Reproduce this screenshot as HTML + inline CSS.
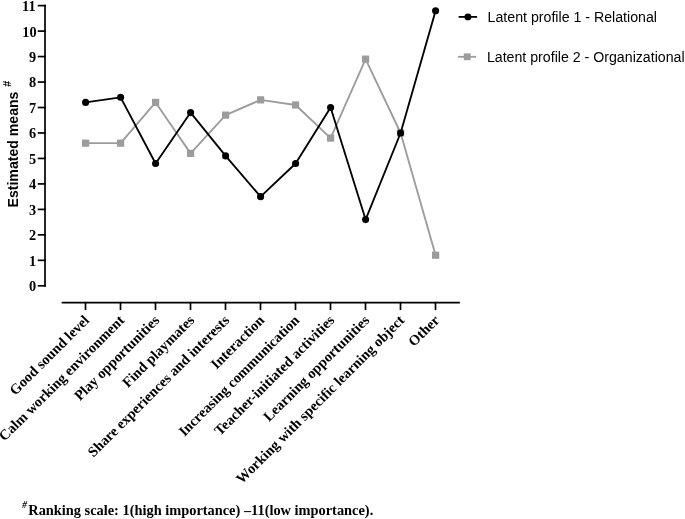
<!DOCTYPE html>
<html><head><meta charset="utf-8"><title>Latent profiles</title>
<style>
html,body{margin:0;padding:0;background:#fff;}
body{width:685px;height:519px;overflow:hidden;}
svg{display:block;}
.ser{font-family:"Liberation Serif",serif;font-weight:bold;fill:#000;}
.san{font-family:"Liberation Sans",sans-serif;fill:#000;}
</style></head><body>
<svg width="685" height="519" viewBox="0 0 685 519">
<rect width="685" height="519" fill="#fff"/>

<g stroke="#000" stroke-width="1.7" fill="none" stroke-linecap="square">
<line x1="45.0" y1="5.63" x2="45.0" y2="285.80"/>
<line x1="38.6" y1="285.80" x2="45.0" y2="285.80"/>
<line x1="38.6" y1="260.33" x2="45.0" y2="260.33"/>
<line x1="38.6" y1="234.86" x2="45.0" y2="234.86"/>
<line x1="38.6" y1="209.39" x2="45.0" y2="209.39"/>
<line x1="38.6" y1="183.92" x2="45.0" y2="183.92"/>
<line x1="38.6" y1="158.45" x2="45.0" y2="158.45"/>
<line x1="38.6" y1="132.98" x2="45.0" y2="132.98"/>
<line x1="38.6" y1="107.51" x2="45.0" y2="107.51"/>
<line x1="38.6" y1="82.04" x2="45.0" y2="82.04"/>
<line x1="38.6" y1="56.57" x2="45.0" y2="56.57"/>
<line x1="38.6" y1="31.10" x2="45.0" y2="31.10"/>
<line x1="38.6" y1="5.63" x2="45.0" y2="5.63"/>
<line x1="62.5" y1="302.7" x2="459" y2="302.7"/>
<line x1="85.5" y1="302.7" x2="85.5" y2="309.2"/>
<line x1="120.5" y1="302.7" x2="120.5" y2="309.2"/>
<line x1="155.5" y1="302.7" x2="155.5" y2="309.2"/>
<line x1="190.5" y1="302.7" x2="190.5" y2="309.2"/>
<line x1="225.5" y1="302.7" x2="225.5" y2="309.2"/>
<line x1="260.5" y1="302.7" x2="260.5" y2="309.2"/>
<line x1="295.5" y1="302.7" x2="295.5" y2="309.2"/>
<line x1="330.5" y1="302.7" x2="330.5" y2="309.2"/>
<line x1="365.5" y1="302.7" x2="365.5" y2="309.2"/>
<line x1="400.5" y1="302.7" x2="400.5" y2="309.2"/>
<line x1="435.5" y1="302.7" x2="435.5" y2="309.2"/>
</g>
<text class="ser" font-size="14.3" text-anchor="end" x="36.1" y="291.25">0</text>
<text class="ser" font-size="14.3" text-anchor="end" x="36.1" y="265.78">1</text>
<text class="ser" font-size="14.3" text-anchor="end" x="36.1" y="240.31">2</text>
<text class="ser" font-size="14.3" text-anchor="end" x="36.1" y="214.84">3</text>
<text class="ser" font-size="14.3" text-anchor="end" x="36.1" y="189.37">4</text>
<text class="ser" font-size="14.3" text-anchor="end" x="36.1" y="163.90">5</text>
<text class="ser" font-size="14.3" text-anchor="end" x="36.1" y="138.43">6</text>
<text class="ser" font-size="14.3" text-anchor="end" x="36.1" y="112.96">7</text>
<text class="ser" font-size="14.3" text-anchor="end" x="36.1" y="87.49">8</text>
<text class="ser" font-size="14.3" text-anchor="end" x="36.1" y="62.02">9</text>
<text class="ser" font-size="14.3" text-anchor="end" x="36.6" y="36.55">10</text>
<text class="ser" font-size="14.3" text-anchor="end" x="35.6" y="11.08">11</text>
<text class="san" font-weight="bold" font-size="14.1" transform="translate(17.5,207.5) rotate(-90)">Estimated means <tspan font-size="10.8" dx="0.8" dy="-7.0">#</tspan></text>
<polyline points="85.60,143.17 120.60,143.17 155.60,102.42 190.60,153.36 225.60,115.15 260.60,99.87 295.60,104.96 330.60,138.07 365.60,59.12 400.60,132.98 435.60,255.24" fill="none" stroke="#9c9c9c" stroke-width="1.85" stroke-linejoin="round"/>
<rect x="82.00" y="139.57" width="7.2" height="7.2" fill="#9c9c9c"/>
<rect x="117.00" y="139.57" width="7.2" height="7.2" fill="#9c9c9c"/>
<rect x="152.00" y="98.82" width="7.2" height="7.2" fill="#9c9c9c"/>
<rect x="187.00" y="149.76" width="7.2" height="7.2" fill="#9c9c9c"/>
<rect x="222.00" y="111.55" width="7.2" height="7.2" fill="#9c9c9c"/>
<rect x="257.00" y="96.27" width="7.2" height="7.2" fill="#9c9c9c"/>
<rect x="292.00" y="101.36" width="7.2" height="7.2" fill="#9c9c9c"/>
<rect x="327.00" y="134.47" width="7.2" height="7.2" fill="#9c9c9c"/>
<rect x="362.00" y="55.52" width="7.2" height="7.2" fill="#9c9c9c"/>
<rect x="397.00" y="129.38" width="7.2" height="7.2" fill="#9c9c9c"/>
<rect x="432.00" y="251.64" width="7.2" height="7.2" fill="#9c9c9c"/>
<polyline points="85.60,102.42 120.60,97.32 155.60,163.54 190.60,112.60 225.60,155.90 260.60,196.66 295.60,163.54 330.60,107.51 365.60,219.58 400.60,132.98 435.60,10.72" fill="none" stroke="#000" stroke-width="1.85" stroke-linejoin="round"/>
<circle cx="85.60" cy="102.42" r="3.55" fill="#000"/>
<circle cx="120.60" cy="97.32" r="3.55" fill="#000"/>
<circle cx="155.60" cy="163.54" r="3.55" fill="#000"/>
<circle cx="190.60" cy="112.60" r="3.55" fill="#000"/>
<circle cx="225.60" cy="155.90" r="3.55" fill="#000"/>
<circle cx="260.60" cy="196.66" r="3.55" fill="#000"/>
<circle cx="295.60" cy="163.54" r="3.55" fill="#000"/>
<circle cx="330.60" cy="107.51" r="3.55" fill="#000"/>
<circle cx="365.60" cy="219.58" r="3.55" fill="#000"/>
<circle cx="400.60" cy="132.98" r="3.55" fill="#000"/>
<circle cx="435.60" cy="10.72" r="3.55" fill="#000"/>
<text class="ser" font-size="14.45" text-anchor="end" transform="translate(90.20,321.1) rotate(-45)">Good sound level</text>
<text class="ser" font-size="14.45" text-anchor="end" transform="translate(125.20,321.1) rotate(-45)">Calm working environment</text>
<text class="ser" font-size="14.45" text-anchor="end" transform="translate(160.20,321.1) rotate(-45)">Play opportunities</text>
<text class="ser" font-size="14.45" text-anchor="end" transform="translate(195.20,321.1) rotate(-45)">Find playmates</text>
<text class="ser" font-size="14.45" text-anchor="end" transform="translate(230.20,321.1) rotate(-45)">Share experiences and interests</text>
<text class="ser" font-size="14.45" text-anchor="end" transform="translate(265.20,321.1) rotate(-45)">Interaction</text>
<text class="ser" font-size="14.45" text-anchor="end" transform="translate(300.20,321.1) rotate(-45)">Increasing communication</text>
<text class="ser" font-size="14.45" text-anchor="end" transform="translate(335.20,321.1) rotate(-45)">Teacher-initiated activities</text>
<text class="ser" font-size="14.45" text-anchor="end" transform="translate(370.20,321.1) rotate(-45)">Learning opportunities</text>
<text class="ser" font-size="14.45" text-anchor="end" transform="translate(405.20,321.1) rotate(-45)">Working with specific learning object</text>
<text class="ser" font-size="14.45" text-anchor="end" transform="translate(440.20,321.1) rotate(-45)">Other</text>
<line x1="458.6" y1="16.9" x2="477.1" y2="16.9" stroke="#000" stroke-width="1.8"/><circle cx="467.9" cy="16.9" r="3.45" fill="#000"/>
<line x1="457.9" y1="56.8" x2="476.1" y2="56.8" stroke="#9c9c9c" stroke-width="1.8"/><rect x="463.8" y="53.4" width="6.8" height="6.8" fill="#9c9c9c"/>
<text class="san" font-size="14.18" x="487.6" y="21.9">Latent profile 1 - Relational</text>
<text class="san" font-size="14.18" x="486.9" y="62.2">Latent profile 2 - Organizational</text>
<text class="ser" font-size="14.38" x="22.3" y="515"><tspan font-size="9.5" font-style="italic" dy="-6.8">#</tspan><tspan dx="1.2" dy="6.8">Ranking scale: 1(high importance) –11(low importance).</tspan></text>
</svg></body></html>
